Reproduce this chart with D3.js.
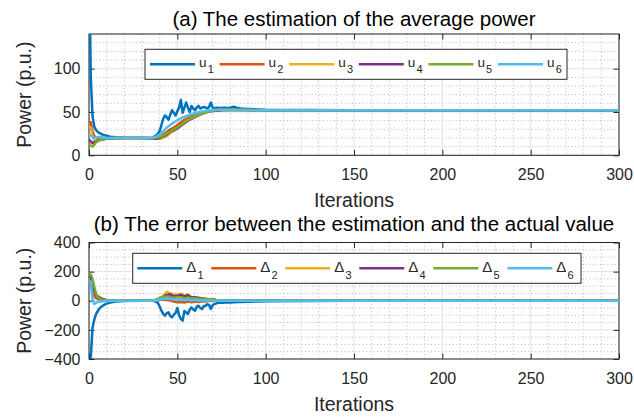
<!DOCTYPE html>
<html>
<head>
<meta charset="utf-8">
<title>Average power estimation</title>
<style>
  body { margin: 0; background: #fff; }
  svg { display: block; font-family: "Liberation Sans", Arial, sans-serif; }
  .tick text { fill: #262626; font-size: 16px; }
  .domain { display: none; }
  .tick line { stroke: #262626; }
  .grid-major line { stroke: #e2e2e2; }
  .grid-minor line { stroke: #b8b8b8; stroke-dasharray: 1 2.6; }
</style>
</head>
<body>
<div id="chart"></div>
<script src="https://d3js.org/d3.v7.min.js"></script>
<script>
// iterations sampled (fine for the jagged node-1 curves, coarse for the rest)
const iterFine = [0,1,2,3,4,5,6,8,10,12,15,20,30,
  36,37,38,39,40,41,42,43,44,45,46,47,48,49,50,51,52,53,54,55,56,57,58,59,60,61,62,63,64,65,66,67,68,69,70,71,72,
  74,76,78,80,82,84,86,90,95,100,150,200,250,300];
const iterCoarse = [0,1,2,3,4,5,6,8,10,12,15,20,30,
  36,38,40,42,44,46,48,50,52,54,56,58,60,62,64,66,68,70,72,75,80,90,100,150,200,250,300];

// (a) estimates of the average power
const u1 = [250,90,45,33,29,27,25.5,23.5,22.5,21.5,20.8,20.2,20,
  20.3,21.5,23,25,28,35,42,46,44,41,47,52,49,46,51,55,64,49,55,61,55,50,57,54,52,55,57,54,55,56,55,54,56,61,55,54,55,
  54.5,55,54.5,55,56,54.5,54,53.5,53,52.5,52,52,52,52];
const u2 = [39,38,28,22,20,19,18.5,18.8,19.3,19.6,19.8,20,20,
  20,20.5,22,24,27,30,32,35,38,41,43,45,47,48.5,49.5,50.5,51,51.5,52,52.5,52.5,52.3,52,52,52,52,52];
const u3 = [33,32,22,17,16,17,18,19,19.5,19.8,20,20,20,
  19.5,19,19,20,22,26,28,31,34,38,41,43,45,47,48.5,50,51,51.5,52,52.3,52.5,52.2,52,52,52,52,52];
const u4 = [18,16,14,15,16,17,17.5,18.5,19,19.5,19.8,20,20,
  19.5,19,20,22,24,27,29,31,34,37,40,42,44,46,48,49.5,50.5,51,51.5,52,52.3,52.2,52,52,52,52,52];
const u5 = [14,11,10,12,15,16.5,17.5,18.5,19,19.5,19.8,20,20,
  20,20.5,21,23,25,27,30,32,35,38,41,43,44.5,46.5,48,49.5,50.5,51.5,52,52.3,52.5,52.2,52,52,52,52,52];
const u6 = [24,23,21,20,20.5,21,21,20.5,20.2,20,20,20,20,
  20,21.5,24,28,32,35,38,40.5,42.5,44.5,46,47.5,48.8,49.8,50.5,51.2,51.8,52.3,52.5,52.5,52.3,52.2,52,52,52,52,52];

// (b) error between estimate and actual value
const err1 = [-600,-390,-185,-130,-92,-70,-52,-32,-20,-12,-6,-2,0,
  0,-3,-8,-15,-40,-68,-90,-103,-85,-80,-105,-114,-95,-85,-50,-100,-125,-137,-70,-80,-91,-60,-46,-60,-68,-40,-34,-50,-57,-36,-34,-24,-30,-57,-30,-23,-18,
  -12,-14,-10,-12,-10,-8,-9,-7,-5,-3,0,0,0,0];
const err2 = [150,130,60,30,18,12,8,4,2,1,0,0,0,
  0,2,5,8,5,2,-5,-10,-8,-12,-6,-10,-5,-8,-3,-5,0,-2,0,0,0,0,0,0,0,0,0];
const err3 = [160,150,100,60,40,30,24,12,5,2,0,0,0,
  0,5,15,35,62,50,45,40,50,35,45,25,20,25,15,15,10,12,5,3,2,0,0,0,0,0,0];
const err4 = [170,160,110,65,42,30,22,10,4,1,0,0,0,
  0,5,12,25,40,45,30,35,40,30,38,22,25,18,15,12,8,10,5,3,1,0,0,0,0,0,0];
const err5 = [190,180,150,95,50,25,15,6,3,1,0,0,0,
  0,8,20,25,30,25,20,25,22,18,20,15,18,12,10,12,8,10,5,3,1,0,0,0,0,0,0];
const err6 = [140,130,10,-22,-15,-8,-5,-3,-2,-1,0,0,0,
  0,3,8,12,15,10,8,5,10,3,8,2,5,2,3,2,1,2,0,0,0,0,0,0,0,0,0];

const xTicks = [0,50,100,150,200,250,300];
const yTicksA = [0,50,100];
const yTicksB = [-400,-200,0,200,400];
const nodeIds = ["1","2","3","4","5","6"];
const colors = ["#0072BD","#D95319","#EDB120","#7E2F8E","#77AC30","#4DBEEE"];

const W = 634, H = 417;
const svg = d3.select("#chart").append("svg").attr("width", W).attr("height", H);

const left = 89, right = 619;

const panels = [
  {
    id: "a", top: 34, bottom: 155.3, yDomain: [0,140], yTicks: yTicksA, yMinor: 10,
    title: "(a) The estimation of the average power", titleY: 26, xlabelY: 206.5, xPad: 13.5,
    xs: [iterFine, iterCoarse, iterCoarse, iterCoarse, iterCoarse, iterCoarse],
    ys: [u1, u2, u3, u4, u5, u6],
    legend: { x: 145, y: 49.3, w: 422, h: 30, first: 150, step: 69.6, sym: "u", symSize: 13.5, base: 2.7 }
  },
  {
    id: "b", top: 242.5, bottom: 359, yDomain: [-400,400], yTicks: yTicksB, yMinor: 50,
    title: "(b) The error between the estimation and the actual value", titleY: 230.5, xlabelY: 411, xPad: 14,
    xs: [iterFine, iterCoarse, iterCoarse, iterCoarse, iterCoarse, iterCoarse],
    ys: [err1, err2, err3, err4, err5, err6],
    legend: { x: 132.7, y: 253.3, w: 448.3, h: 30, first: 137.3, step: 74, sym: "\u0394", symSize: 15, base: 4 }
  }
];

panels.forEach(p => {
  const x = d3.scaleLinear().domain([0,300]).range([left, right]);
  const y = d3.scaleLinear().domain(p.yDomain).range([p.bottom, p.top]);
  const g = svg.append("g");

  // minor grid (dotted)
  const xMinor = d3.range(0, 301, 10).filter(v => v % 50 !== 0);
  const yMinor = d3.range(p.yDomain[0], p.yDomain[1] + 0.1, p.yMinor).filter(v => !p.yTicks.includes(v));
  const gm = g.append("g").attr("class", "grid-minor");
  gm.selectAll(".vx").data(xMinor).join("line")
    .attr("x1", d => x(d)).attr("x2", d => x(d)).attr("y1", p.top).attr("y2", p.bottom);
  gm.selectAll(".hy").data(yMinor).join("line")
    .attr("x1", left).attr("x2", right).attr("y1", d => y(d)).attr("y2", d => y(d));

  // major grid
  const gM = g.append("g").attr("class", "grid-major");
  gM.selectAll(".vx").data(xTicks).join("line")
    .attr("x1", d => x(d)).attr("x2", d => x(d)).attr("y1", p.top).attr("y2", p.bottom);
  gM.selectAll(".hy").data(p.yTicks).join("line")
    .attr("x1", left).attr("x2", right).attr("y1", d => y(d)).attr("y2", d => y(d));

  // axes with inward ticks on all four sides
  g.append("g").attr("transform", `translate(0,${p.bottom})`)
    .call(d3.axisBottom(x).tickValues(xTicks).tickSizeInner(-5.5).tickSizeOuter(0).tickPadding(p.xPad));
  g.append("g").attr("transform", `translate(0,${p.top})`)
    .call(d3.axisTop(x).tickValues(xTicks).tickSizeInner(-5.5).tickSizeOuter(0).tickFormat(""));
  g.append("g").attr("transform", `translate(${left},0)`)
    .call(d3.axisLeft(y).tickValues(p.yTicks).tickSizeInner(-5.5).tickSizeOuter(0).tickPadding(8.5));
  g.append("g").attr("transform", `translate(${right},0)`)
    .call(d3.axisRight(y).tickValues(p.yTicks).tickSizeInner(-5.5).tickSizeOuter(0).tickFormat(""));

  g.append("rect").attr("x", left).attr("y", p.top)
    .attr("width", right - left).attr("height", p.bottom - p.top)
    .attr("fill", "none").attr("stroke", "#262626").attr("stroke-width", 1);

  // data lines, clipped to the axes
  g.append("clipPath").attr("id", "clip-" + p.id).append("rect")
    .attr("x", left).attr("y", p.top).attr("width", right - left).attr("height", p.bottom - p.top);
  const line = d3.line().x(d => x(d[0])).y(d => y(d[1]));
  const lg = g.append("g").attr("clip-path", `url(#clip-${p.id})`);
  p.ys.forEach((vals, i) => {
    const pts = vals.map((v, k) => [p.xs[i][k], v]);
    lg.append("path").attr("d", line(pts)).attr("fill", "none")
      .attr("stroke", colors[i]).attr("stroke-width", 2.5).attr("stroke-linejoin", "round");
  });

  // titles and labels
  g.append("text").attr("x", (left + right) / 2).attr("y", p.titleY).attr("text-anchor", "middle")
    .style("font-size", "20.5px").attr("fill", "#000").text(p.title);
  g.append("text").attr("x", (left + right) / 2).attr("y", p.xlabelY).attr("text-anchor", "middle")
    .style("font-size", "19.5px").attr("fill", "#262626").text("Iterations");
  g.append("text").attr("transform", `translate(31,${(p.top + p.bottom) / 2}) rotate(-90)`)
    .attr("text-anchor", "middle").style("font-size", "19.5px").attr("fill", "#262626").text("Power (p.u.)");

  // legend
  const L = p.legend;
  const leg = g.append("g");
  leg.append("rect").attr("x", L.x).attr("y", L.y).attr("width", L.w).attr("height", L.h)
    .attr("fill", "#fff").attr("stroke", "#262626").attr("stroke-width", 1);
  const cy = L.y + L.h / 2;
  nodeIds.forEach((id, i) => {
    const x0 = L.first + i * L.step;
    leg.append("line").attr("x1", x0).attr("x2", x0 + 45).attr("y1", cy).attr("y2", cy)
      .attr("stroke", colors[i]).attr("stroke-width", 2.5);
    const t = leg.append("text").attr("x", x0 + 49).attr("y", cy + L.base).attr("fill", "#262626");
    t.append("tspan").style("font-size", L.symSize + "px").text(L.sym);
    t.append("tspan").attr("dx", 1.2).attr("dy", 6.3).style("font-size", "11px").text(id);
  });
});
</script>
</body>
</html>
